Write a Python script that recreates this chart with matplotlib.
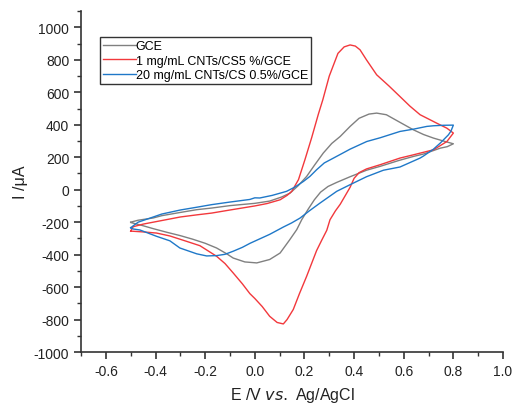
import matplotlib
matplotlib.use("Agg")
import matplotlib.pyplot as plt
from matplotlib.ticker import MultipleLocator

plt.rcParams['font.family'] = ['Liberation Sans', 'DejaVu Sans']
plt.rcParams['axes.unicode_minus'] = False

# Cyclic voltammograms: forward (anodic) sweep followed by reverse sweep
gce_E = [-0.5, -0.47, -0.409, -0.375, -0.3, -0.234, -0.174, -0.1, 0.0, 0.06, 0.108,
         0.142, 0.175, 0.209, 0.24, 0.276, 0.31, 0.344, 0.384, 0.42, 0.46, 0.491,
         0.53, 0.585, 0.639, 0.68, 0.72, 0.76, 0.8,
         0.775, 0.747, 0.68, 0.639, 0.58, 0.505, 0.45, 0.384, 0.33, 0.295, 0.265,
         0.24, 0.215, 0.189, 0.169, 0.14, 0.102, 0.06, 0.008, -0.04, -0.087,
         -0.113, -0.154, -0.2, -0.25, -0.3, -0.355, -0.409, -0.45, -0.5]
gce_I = [-200, -188, -174, -160, -140, -123, -113, -98, -84, -70, -45,
         -21, 25, 82, 150, 226, 285, 328, 390, 440, 466, 472,
         462, 415, 369, 340, 318, 300, 283,
         265, 256, 220, 205, 180, 144, 120, 80, 45, 20, -15,
         -62, -120, -185, -246, -310, -390, -430, -451, -445, -421,
         -395, -359, -330, -305, -283, -262, -240, -222, -202]

cnt1_E = [-0.5, -0.49, -0.45, -0.375, -0.3, -0.234, -0.174, -0.1, 0.0, 0.05, 0.102,
          0.13, 0.149, 0.176, 0.202, 0.229, 0.256, 0.274, 0.3, 0.335, 0.36, 0.384,
          0.405, 0.424, 0.45, 0.491, 0.54, 0.585, 0.625, 0.666, 0.706, 0.733,
          0.774, 0.8,
          0.774, 0.72, 0.639, 0.585, 0.505, 0.45, 0.42, 0.4, 0.384, 0.365, 0.344,
          0.325, 0.303, 0.29, 0.27, 0.249, 0.209, 0.18, 0.155, 0.13, 0.115, 0.09,
          0.06, 0.03, 0.0, -0.02, -0.05, -0.087, -0.12, -0.154, -0.221, -0.275,
          -0.342, -0.396, -0.45, -0.5]
cnt1_I = [-255, -228, -212, -190, -168, -155, -144, -125, -100, -85, -62,
          -35, -10, 62, 185, 320, 465, 554, 700, 840, 880, 892,
          885, 862, 800, 708, 640, 574, 515, 462, 431, 410,
          379, 349,
          297, 246, 215, 195, 154, 128, 105, 70, 15, -35, -90,
          -130, -185, -250, -310, -375, -533, -640, -738, -800, -827, -818,
          -780, -720, -670, -640, -580, -513, -455, -410, -345, -318,
          -285, -267, -260, -255]

cnt20_E = [-0.5, -0.47, -0.409, -0.375, -0.3, -0.234, -0.174, -0.1, -0.02, 0.0, 0.02,
           0.07, 0.128, 0.16, 0.196, 0.222, 0.249, 0.28, 0.317, 0.35, 0.384, 0.451,
           0.505, 0.585, 0.639, 0.693, 0.72, 0.76, 0.8,
           0.79, 0.78, 0.747, 0.72, 0.68, 0.666, 0.585, 0.518, 0.45, 0.384, 0.33,
           0.263, 0.22, 0.182, 0.148, 0.115, 0.06, -0.019, -0.05, -0.087, -0.12,
           -0.154, -0.194, -0.234, -0.302, -0.342, -0.396, -0.463, -0.49, -0.5]
cnt20_I = [-234, -200, -168, -150, -125, -108, -92, -76, -60, -50, -51,
           -35, -10, 15, 51, 82, 123, 165, 195, 222, 250, 297,
           320, 359, 373, 390, 394, 397, 398,
           360, 338, 287, 250, 208, 195, 140, 120, 80, 31, -10,
           -82, -130, -175, -205, -230, -275, -330, -355, -379, -398,
           -406, -408, -395, -359, -315, -287, -248, -242, -234]

labels = ["GCE", "1 mg/mL CNTs/CS5 %/GCE", "20 mg/mL CNTs/CS 0.5%/GCE"]
colors = ["#808080", "#f2383c", "#1f78c8"]

fig = plt.figure(figsize=(5.13, 4.06), dpi=100)
ax = fig.add_axes([0.158, 0.1305, 0.8225, 0.8395])

for E, I, lab, c in zip([gce_E, cnt1_E, cnt20_E], [gce_I, cnt1_I, cnt20_I], labels, colors):
    ax.plot(E, I, color=c, lw=1.0, label=lab)

ax.set_xlim(-0.7, 1.0)
ax.set_ylim(-1000, 1100)
ax.set_xticks([-0.6, -0.4, -0.2, 0.0, 0.2, 0.4, 0.6, 0.8, 1.0])
ax.set_yticks(range(-1000, 1001, 200))
ax.xaxis.set_minor_locator(MultipleLocator(0.1))
ax.yaxis.set_minor_locator(MultipleLocator(100))

for s in ['top', 'right']:
    ax.spines[s].set_visible(False)
for s in ['left', 'bottom']:
    ax.spines[s].set_linewidth(1.2)
    ax.spines[s].set_color('#333333')

ax.tick_params(which='major', direction='out', length=5, width=1.2, color='#333333',
               labelsize=10, labelcolor='#222222')
ax.tick_params(which='minor', direction='out', length=3, width=1.0, color='#333333')

ax.set_xlabel(r"E /V $\it{vs.}$ Ag/AgCl", fontsize=11.5, color='#222222', labelpad=5)
ax.set_ylabel(r"I /μA", fontsize=11.5, color='#222222', labelpad=4)

leg = ax.legend(loc='upper left', bbox_to_anchor=(0.045, 0.924), fontsize=9,
                handlelength=2.6, handletextpad=0.0, labelspacing=0.2,
                borderpad=0.25, borderaxespad=0.0, fancybox=False, framealpha=1)
leg.get_frame().set_edgecolor('#333333')
leg.get_frame().set_linewidth(1.0)

fig.savefig("out.png", dpi=100)
